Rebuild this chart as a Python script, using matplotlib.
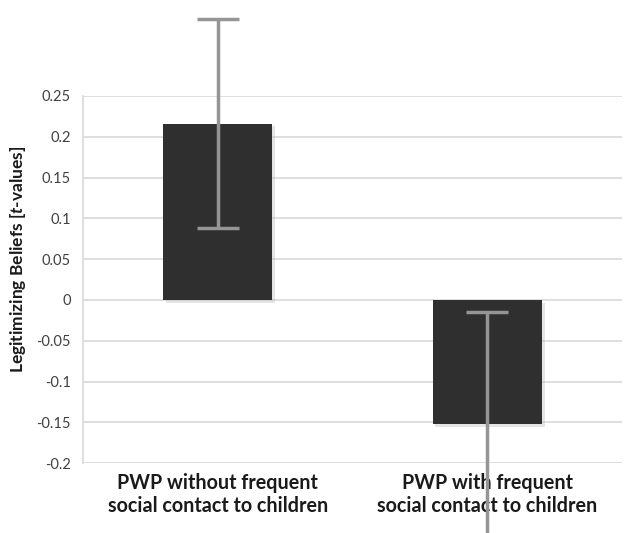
import matplotlib
matplotlib.use('Agg')
import matplotlib.pyplot as plt
import matplotlib.patheffects as pe

# values
groups = ['PWP without frequent\nsocial contact to children',
          'PWP with frequent\nsocial contact to children']
means = [0.216, -0.152]
errors = [0.128, 0.137]
yticks = [-0.2, -0.15, -0.1, -0.05, 0, 0.05, 0.1, 0.15, 0.2, 0.25]
ytick_labels = ['-0.2', '-0.15', '-0.1', '-0.05', '0', '0.05', '0.1', '0.15', '0.2', '0.25']

plt.rcParams['font.family'] = ['Lato', 'DejaVu Sans']
plt.rcParams['mathtext.fontset'] = 'custom'
plt.rcParams['mathtext.it'] = 'Lato:italic:bold'

fig = plt.figure(figsize=(6.25, 5.33), dpi=100)
ax = fig.add_axes([0.133, 0.131, 0.862, 0.689])

x = range(len(groups))
bars = ax.bar(x, means, width=0.405, color='#2f2f2f', zorder=3)
for b in bars:
    b.set_path_effects([pe.SimplePatchShadow(offset=(2, -2), shadow_rgbFace='#aaaaaa', alpha=0.3), pe.Normal()])

ax.errorbar(x, means, yerr=errors, fmt='none', ecolor='#959595', elinewidth=2.5,
            capsize=15, capthick=2.5, zorder=4, clip_on=False)

ax.set_xlim(-0.5, 1.5)
ax.set_ylim(-0.2, 0.25)
ax.set_yticks(yticks)
ax.set_yticklabels(ytick_labels, fontsize=10.5, color='#404040')
ax.set_xticks(list(x))
ax.set_xticklabels(groups, fontsize=14.2, fontweight='bold', color='#1a1a1a', linespacing=1.2)
ax.tick_params(axis='both', length=0)
ax.tick_params(axis='y', pad=9)
ax.tick_params(axis='x', pad=7)

ax.grid(axis='y', color='#d9d9d9', linewidth=1.2, zorder=0)
ax.set_axisbelow(True)
for s in ['top', 'right', 'bottom']:
    ax.spines[s].set_visible(False)
ax.spines['left'].set_color('#d9d9d9')
ax.spines['left'].set_linewidth(1.2)

ax.set_ylabel(r'Legitimizing Beliefs [$\mathit{t}$-values]', fontsize=12.5,
              fontweight='bold', color='#1a1a1a')
ax.yaxis.set_label_coords(-0.103, 0.555)

fig.savefig('out.png', dpi=100)
